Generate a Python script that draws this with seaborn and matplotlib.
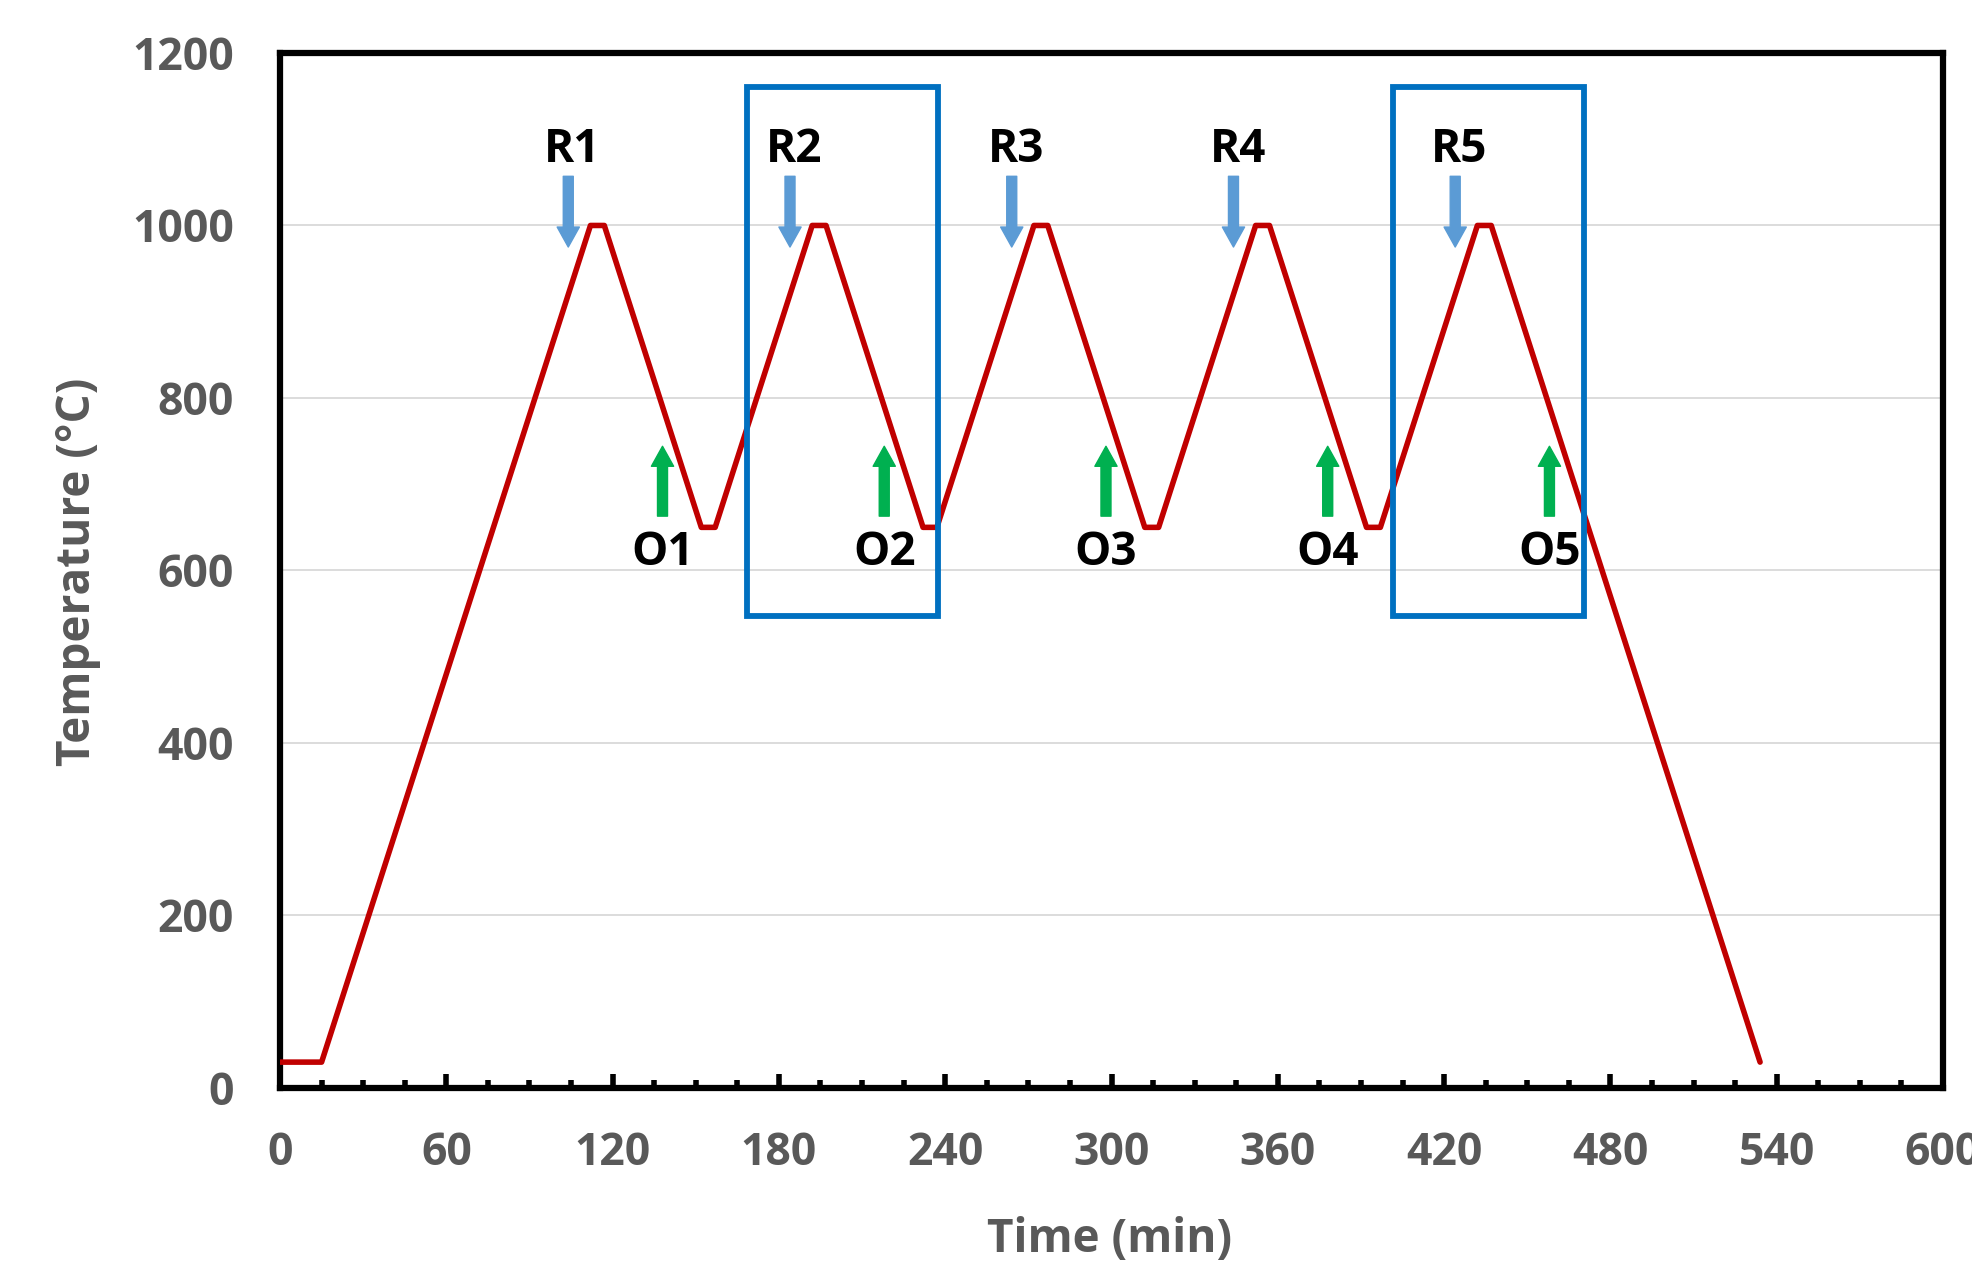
import matplotlib
matplotlib.use('Agg')
import matplotlib.pyplot as plt
from matplotlib.patches import Rectangle
from matplotlib.ticker import MultipleLocator
import pandas as pd
import seaborn as sns

sns.set_theme(style="white")
plt.rcParams['font.family'] = ['Open Sans', 'DejaVu Sans']

# temperature programme (min, degC)
time_min = [0, 15, 112, 117, 152, 157, 192, 197, 232, 237, 272, 277,
            312, 317, 352, 357, 392, 397, 432, 437, 534]
temp_c = [30, 30, 1000, 1000, 650, 650, 1000, 1000, 650, 650, 1000, 1000,
          650, 650, 1000, 1000, 650, 650, 1000, 1000, 30]

# reduction (R) and oxidation (O) markers
r_labels = ["R1", "R2", "R3", "R4", "R5"]
r_times = [104, 184, 264, 344, 424]
o_labels = ["O1", "O2", "O3", "O4", "O5"]
o_times = [138, 218, 298, 378, 458]

# highlighted cycles (x0, x1) in minutes, y range in degC
box_x = [(168.5, 237.4), (401.6, 470.6)]
box_y = (547, 1161)

df = pd.DataFrame({"time": time_min, "temp": temp_c})

fig = plt.figure(figsize=(19.72, 12.61), dpi=100)
ax = fig.add_axes([0.142, 0.1372, 0.8433, 0.8208])

sns.lineplot(data=df, x="time", y="temp", ax=ax, color="#C00000",
             linewidth=4.0, estimator=None, sort=False, zorder=3)

ax.set_xlim(0, 600)
ax.set_ylim(0, 1200)
ax.xaxis.set_major_locator(MultipleLocator(60))
ax.xaxis.set_minor_locator(MultipleLocator(15))
ax.yaxis.set_major_locator(MultipleLocator(200))

ax.yaxis.grid(True, color="#D9D9D9", linewidth=1.3)
ax.xaxis.grid(False)
ax.set_axisbelow(True)

for side in ["left", "right", "top", "bottom"]:
    ax.spines[side].set_visible(True)
    ax.spines[side].set_color("black")
    ax.spines[side].set_linewidth(4.5)

ax.tick_params(axis="x", which="major", direction="in", length=10, width=4,
               color="black", bottom=True, top=False, pad=31,
               labelsize=32, labelcolor="#595959")
ax.tick_params(axis="x", which="minor", direction="in", length=6, width=4,
               color="black", bottom=True, top=False)
ax.tick_params(axis="y", which="both", length=0, pad=33,
               labelsize=32, labelcolor="#595959")
for lab in ax.get_xticklabels() + ax.get_yticklabels():
    lab.set_fontweight("bold")

ax.set_xlabel("Time (min)", fontsize=33, fontweight="bold", color="#595959",
              va="center")
ax.set_ylabel("Temperature (°C)", fontsize=33, fontweight="bold",
              color="#595959", va="center")
ax.xaxis.set_label_coords(0.499, -0.146)
ax.yaxis.set_label_coords(-0.1215, 0.4986)

arrow_style = "simple,head_length=0.9,head_width=1.0,tail_width=0.45"
for lab, t in zip(r_labels, r_times):
    ax.annotate("", xy=(t, 975), xytext=(t, 1057),
                arrowprops=dict(arrowstyle=arrow_style, color="#5B9BD5",
                                mutation_scale=16, shrinkA=0, shrinkB=0))
    ax.text(t + 1.5, 1088, lab, fontsize=33, fontweight="bold",
            ha="center", va="center", color="black")

for lab, t in zip(o_labels, o_times):
    ax.annotate("", xy=(t, 744), xytext=(t, 663),
                arrowprops=dict(arrowstyle=arrow_style, color="#00B050",
                                mutation_scale=16, shrinkA=0, shrinkB=0))
    ax.text(t, 621, lab, fontsize=33, fontweight="bold",
            ha="center", va="center", color="black")

for x0, x1 in box_x:
    ax.add_patch(Rectangle((x0, box_y[0]), x1 - x0, box_y[1] - box_y[0],
                           fill=False, edgecolor="#0070C0", linewidth=4.2,
                           zorder=4, clip_on=False))

fig.savefig("out.png", dpi=100)
